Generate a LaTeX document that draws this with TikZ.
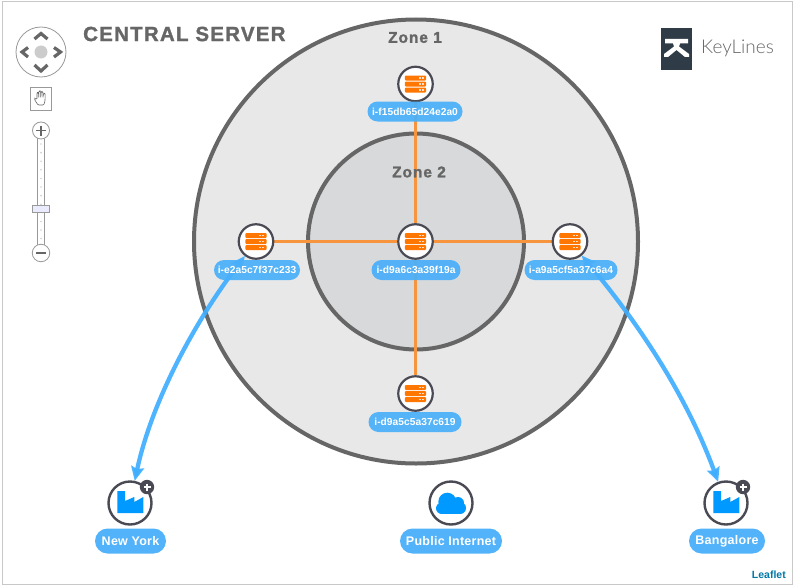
\documentclass[tikz,border=0pt]{standalone}
\usepackage{fontspec}
\setmainfont{Liberation Sans}
\newfontfamily\lblf{Liberation Sans}[LetterSpace=0.5]
\newfontfamily\lblbf{Liberation Sans}[LetterSpace=2]
\newfontfamily\ttlf{Liberation Sans Bold}[LetterSpace=6,FakeBold=1.4]
\newfontfamily\logof{Lato Light}
\usetikzlibrary{arrows.meta}
\definecolor{ringc}{HTML}{666666}
\definecolor{zoneo}{HTML}{E8E8E8}
\definecolor{zonei}{HTML}{D8D9DB}
\definecolor{orangee}{HTML}{F7943E}
\definecolor{orangei}{HTML}{FF7700}
\definecolor{blueedge}{HTML}{3FAEFF}
\definecolor{bluelbl}{HTML}{4AAFFA}
\definecolor{blueicon}{HTML}{0099FF}
\definecolor{nodering}{HTML}{4A4A55}
\definecolor{logobg}{HTML}{2F3C48}
\definecolor{framec}{HTML}{C8C8C8}
\definecolor{ctrlc}{HTML}{999999}
\definecolor{leafc}{HTML}{0078A8}
\pgfdeclarelayer{bg}
\pgfdeclarelayer{edgelayer}
\pgfsetlayers{bg,edgelayer,main}
\tikzset{
  zone/.style={circle,draw=ringc,line width=4pt,inner sep=0pt},
  srv/.style={circle,draw=nodering,line width=2.2pt,fill=white,minimum size=34.5pt,inner sep=0pt},
  big/.style={circle,draw=nodering,line width=2.4pt,fill=white,minimum size=43pt,inner sep=0pt},
  lbl/.style={rounded corners=10pt,fill=bluelbl,fill opacity=.93,text opacity=1,text=white,font=\lblf\bfseries\fontsize{10.2}{12}\selectfont,inner sep=0pt,minimum height=20pt,anchor=center},
  lblb/.style={rounded corners=12.5pt,fill=bluelbl,fill opacity=.95,text opacity=1,text=white,font=\lblbf\bfseries\fontsize{12.5}{14}\selectfont,inner sep=0pt,minimum height=25pt,anchor=center},
  oedge/.style={draw=orangee,line width=3pt},
  bedge/.style={draw=blueedge,draw opacity=.92,line width=4.3pt,{Stealth[length=14pt,width=13pt,inset=2pt]}-{Stealth[length=14pt,width=13pt,inset=2pt]}},
  zlab/.style={text=ringc,font=\ttlf\fontsize{15.5}{17}\selectfont,inner sep=0pt},
  chev/.style={draw=ringc,line width=3.2pt,line join=miter},
  ctrl/.style={draw=ctrlc,line width=.8pt},
  pics/servericon/.style={code={
    \foreach \yy in {-6,0,6}{
      \fill[orangei,rounded corners=1pt] (-10.7,\yy-2.5) rectangle (10.7,\yy+2.5);
      \fill[white!75!orangei] (3.4,\yy-.9) rectangle (5.2,\yy+.5);
      \fill[white!75!orangei] (6.2,\yy-.9) rectangle (8,\yy+.5);
    }
  }},
  pics/factoryicon/.style={code={
    \fill[blueicon] (-12.7,-12) -- (-5,-12) -- (-5,-2) -- (4.3,-6) -- (4.3,-1) -- (13.3,-6) -- (13.3,10) -- (-12.7,10) -- cycle;
  }},
  pics/badge/.style={code={
    \fill[nodering] (0,0) circle[radius=7.2pt];
    \draw[white,line width=1.4pt] (-3.5,0) -- (3.5,0) (0,-3.5) -- (0,3.5);
  }},
}
\begin{document}
\begin{tikzpicture}[x=1pt,y=-1pt]
\useasboundingbox (0,0) rectangle (794,586);

% zones
\begin{pgfonlayer}{bg}
\fill[white] (0,0) rectangle (794,586);
\draw[framec,line width=1pt] (2,2) rectangle (792,584);
\node[zone,fill=zoneo,minimum size=444pt] (zone1) at (416,241.5) {};
\node[zone,fill=zonei,minimum size=216pt] (zone2) at (416,241.5) {};
\end{pgfonlayer}
\node[zlab] (z1t) at (415,37.5) {Zone 1};
\node[zlab] (z2t) at (419,172) {Zone 2};
\node[anchor=west,text=ringc,font=\ttlf\fontsize{20.5}{22}\selectfont,inner sep=0pt] (title) at (83,34) {CENTRAL SERVER};

% server nodes
\node[srv] (top) at (415.5,84) {};
\node[srv] (left) at (256,241.5) {};
\node[srv] (mid) at (415.5,241.5) {};
\node[srv] (right) at (570,241.5) {};
\node[srv] (bottom) at (415.5,393.5) {};
\foreach \n in {top,left,mid,right,bottom}{ \pic at (\n) {servericon}; }

% big nodes
\node[big] (ny) at (130,503) {};
\node[big] (net) at (451,503) {};
\node[big] (blr) at (726,503) {};
\pic at (ny) {factoryicon};
\pic at (blr) {factoryicon};
\pic at (147,487) {badge};
\pic at (743,487) {badge};
% cloud
\fill[blueicon] (447.3,501.7) circle[radius=9pt];
\fill[blueicon] (458,503) circle[radius=6pt];
\fill[blueicon] (441.7,508.3) circle[radius=5.7pt];
\fill[blueicon] (460,508) circle[radius=6pt];
\fill[blueicon] (441.7,503) rectangle (460,514);

% connectors
\begin{pgfonlayer}{edgelayer}
\draw[oedge] (mid) -- (top);
\draw[oedge] (mid) -- (left);
\draw[oedge] (mid) -- (right);
\draw[oedge] (mid) -- (bottom);
\draw[bedge] (left) .. controls (196,320) and (152,400) .. (ny);
\draw[bedge] (right) .. controls (644,330) and (688,400) .. (blr);
\end{pgfonlayer}

% labels
\node[lbl,minimum width=95pt] (ltop) at (415,111.5) {i-f15db65d24e2a0};
\node[lbl,minimum width=86pt] (lleft) at (257,270) {i-e2a5c7f37c233};
\node[lbl,minimum width=89pt] (lmid) at (416,270) {i-d9a6c3a39f19a};
\node[lbl,minimum width=93pt] (lright) at (571,270) {i-a9a5cf5a37c6a4};
\node[lbl,minimum width=93pt] (lbottom) at (415,422) {i-d9a5c5a37c619};
\node[lblb,minimum width=71pt] (lny) at (130.5,541) {New York};
\node[lblb,minimum width=102pt] (lnet) at (451,541) {Public Internet};
\node[lblb,minimum width=76pt] (lblr) at (727,541) {Bangalore};

% map controls
\node[circle,draw=ctrlc,line width=.8pt,fill=white,minimum size=50pt,inner sep=0pt] (nav) at (41,52) {};
\fill[black!20] (nav) circle[radius=6.5pt];
\draw[chev] (34.5,39) -- (41,33.5) -- (47.5,39);
\draw[chev] (34.5,65) -- (41,71) -- (47.5,65);
\draw[chev] (28,47.5) -- (22,52) -- (28,57);
\draw[chev] (54,47.5) -- (60.5,52) -- (54,57);
\node[rectangle,draw=ctrlc,line width=.8pt,fill=white,minimum width=20.5pt,minimum height=22.5pt,inner sep=0pt] (hand) at (40.7,99) {};
\draw[ringc,line width=.6pt,rounded corners=1pt] (38,105) -- (34.5,99.5) -- (35,98) -- (37,99.5) -- (37,92.5) -- (38.5,92.5) -- (38.7,98) -- (38.9,91) -- (40.6,91) -- (40.8,98) -- (41.2,91.5) -- (42.9,91.8) -- (42.9,98) -- (43.6,93.2) -- (45.2,93.5) -- (45,101) -- (43.8,105) -- cycle;
\draw[ctrl,fill=white] (37.5,136) rectangle (44.5,246);
\foreach \yy in {144,152.6,161.2,169.8,178.4,187,195.6,204.2,221.4,229.9,238.5}{
  \fill[black!18] (41,\yy) circle[radius=.9pt];
}
\node[rectangle,draw=ctrlc,line width=.8pt,fill=white!92!blue,minimum width=17.5pt,minimum height=7pt,inner sep=0pt] (thumb) at (41,208.5) {};
\node[circle,draw=ctrlc,line width=.8pt,fill=white,minimum size=17pt,inner sep=0pt] (zin) at (41,130.5) {};
\draw[ringc,line width=1.8pt] (36,130.5) -- (46,130.5) (41,125.5) -- (41,135.5);
\node[circle,draw=ctrlc,line width=.8pt,fill=white,minimum size=17.5pt,inner sep=0pt] (zout) at (41,253) {};
\draw[ringc,line width=1.8pt] (36,253) -- (46,253);

% logo
\fill[logobg] (661,28) rectangle (692,70);
\fill[white] (665,39) -- (688,39) -- (688,43.5) -- (680,43.5) -- (679,46.5) -- (689,54) -- (689,57) -- (685,57) -- (676.5,50) -- (668,57) -- (664,57) -- (664,54) -- (674,46.5) -- (673,43.5) -- (665,43.5) -- cycle;
\node[anchor=west,text=ringc,font=\logof\fontsize{19}{22}\selectfont,inner sep=0pt] (logot) at (701,48.5) {KeyLines};

\node[anchor=east,text=leafc,font=\bfseries\fontsize{10.5}{12}\selectfont,inner sep=0pt] (leaflet) at (786,575) {Leaflet};
\end{tikzpicture}
\end{document}
